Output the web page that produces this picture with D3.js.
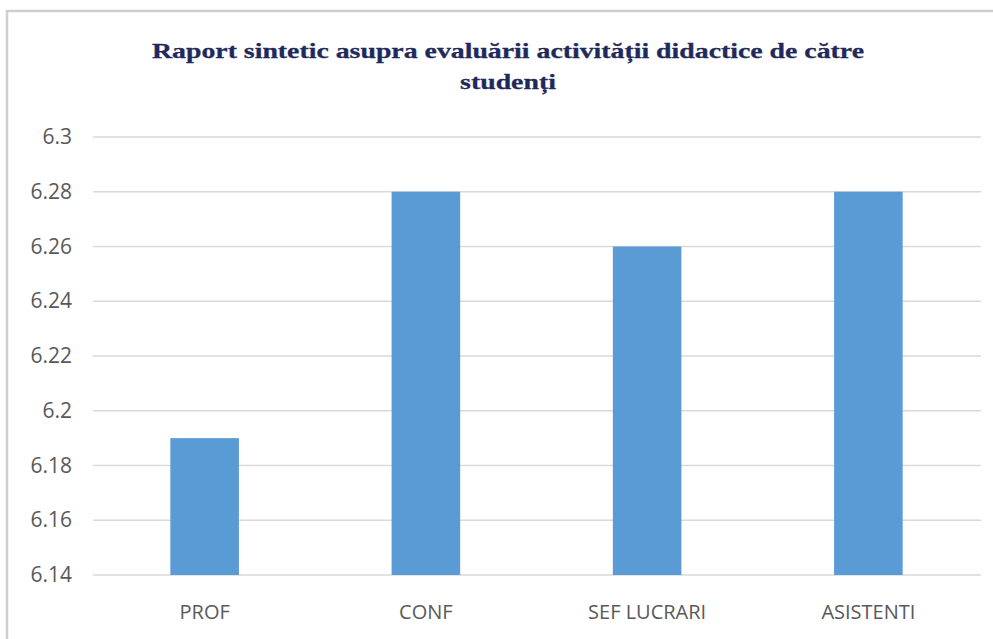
<!DOCTYPE html>
<html>
<head>
<meta charset="utf-8">
<script src="https://cdn.jsdelivr.net/npm/d3@7"></script>
<style>
  html, body { margin: 0; padding: 0; background: #fff; }
</style>
</head>
<body>
<svg id="chart"></svg>
<script>
const categories = ["PROF", "CONF", "SEF LUCRARI", "ASISTENTI"];
const values = [6.19, 6.28, 6.26, 6.28];
const yTicks = [6.14, 6.16, 6.18, 6.2, 6.22, 6.24, 6.26, 6.28, 6.3];
const titleLines = ["Raport sintetic asupra evaluării activității didactice de către", "studenți"];

const W = 993, H = 639;
const svg = d3.select("#chart").attr("width", W).attr("height", H);

// frame (soft grey edge on top and left, like the cropped screenshot)
svg.append("line").attr("x1", 7).attr("x2", 7).attr("y1", 10).attr("y2", H)
  .attr("stroke", "#cfcfcf").attr("stroke-width", 2.5);
svg.append("line").attr("x1", 7).attr("x2", W).attr("y1", 11).attr("y2", 11)
  .attr("stroke", "#cfcfcf").attr("stroke-width", 2.5);

// title, stretched so the first line spans about 712px like the original
const title = svg.append("g").selectAll("text")
  .data(titleLines)
  .enter().append("text")
  .attr("x", 508)
  .attr("y", (d, i) => 58 + i * 31)
  .attr("text-anchor", "middle")
  .attr("font-family", "'Liberation Serif', 'DejaVu Serif', serif")
  .attr("font-weight", "bold")
  .attr("font-size", 22)
  .attr("fill", "#1f2a5c")
  .attr("stroke", "#1f2a5c")
  .attr("stroke-width", 0.3)
  .text(d => d);
const scaleX = 712 / title.nodes()[0].getComputedTextLength();
title.attr("textLength", function() { return this.getComputedTextLength() * scaleX; })
  .attr("lengthAdjust", "spacingAndGlyphs");

const x = d3.scaleBand()
  .domain(categories)
  .range([94, 979])
  .paddingInner(0.69)
  .paddingOuter(0.345);

const y = d3.scaleLinear()
  .domain([6.14, 6.3])
  .range([575, 137]);

// gridlines
svg.append("g").selectAll("line")
  .data(yTicks)
  .enter().append("line")
  .attr("x1", 93).attr("x2", 981)
  .attr("y1", d => y(d)).attr("y2", d => y(d))
  .attr("stroke", "#d9d9d9").attr("stroke-width", 1.5);

// y axis labels
const yAxis = d3.axisLeft(y).tickValues(yTicks).tickSize(0).tickPadding(0)
  .tickFormat(d => String(+d.toFixed(2)));
const gy = svg.append("g").attr("transform", "translate(72,0)").call(yAxis);
gy.select(".domain").remove();
gy.selectAll("text")
  .attr("font-family", "'Open Sans', sans-serif")
  .attr("font-size", 21)
  .attr("fill", "#595959");

// bars
svg.append("g").selectAll("rect")
  .data(values)
  .enter().append("rect")
  .attr("x", (d, i) => x(categories[i]))
  .attr("y", d => y(d))
  .attr("width", x.bandwidth())
  .attr("height", d => y(6.14) - y(d))
  .attr("fill", "#5b9bd5");

// x axis labels
const xAxis = d3.axisBottom(x).tickSize(0).tickPadding(0);
const gx = svg.append("g").attr("transform", "translate(0,575)").call(xAxis);
gx.select(".domain").remove();
gx.selectAll("text")
  .attr("y", 37)
  .attr("dy", "0.35em")
  .attr("font-family", "'Open Sans', sans-serif")
  .attr("font-size", 20)
  .attr("fill", "#595959");
</script>
</body>
</html>
